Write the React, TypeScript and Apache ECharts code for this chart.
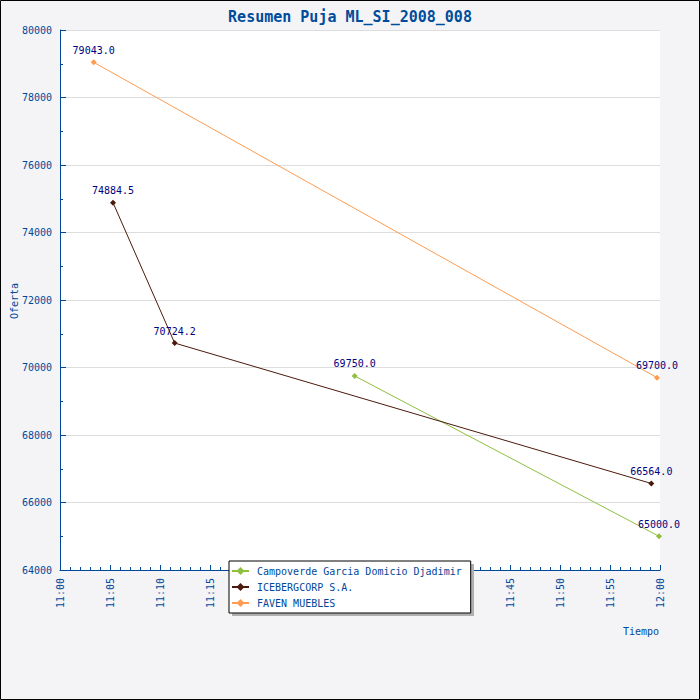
import React, { useEffect, useRef } from "react";
import * as echarts from "echarts";

const seriesNames = ["Campoverde Garcia Domicio Djadimir", "ICEBERGCORP S.A.", "FAVEN MUEBLES"];
const seriesColors = ["#8fbf3f", "#4b1a0c", "#ff9c50"];

const campoverdeTimes = ["11:29:28", "11:59:54"];
const campoverdeValues = [69750.0, 65000.0];

const icebergTimes = ["11:05:18", "11:11:28", "11:59:08"];
const icebergValues = [74884.5, 70724.2, 66564.0];

const favenTimes = ["11:03:22", "11:59:42"];
const favenValues = [79043.0, 69700.0];

const xStart = "11:00:00";
const xEnd = "12:00:00";
const yMin = 64000;
const yMax = 80000;

const toMinutes = (t: string) => {
  const [h, m, s] = t.split(":").map(Number);
  return h * 60 + m + s / 60;
};
const base = toMinutes(xStart);
const pairs = (times: string[], values: number[]) =>
  times.map((t, i) => [toMinutes(t) - base, values[i]]);

const FONT = "DejaVu Sans Mono";
const AXIS = "#00489a";

export default function App() {
  const ref = useRef<HTMLDivElement>(null);
  useEffect(() => {
    document.body.style.margin = "0";
    const chart = echarts.init(ref.current!, null, { renderer: "svg" });
    const data = [
      pairs(campoverdeTimes, campoverdeValues),
      pairs(icebergTimes, icebergValues),
      pairs(favenTimes, favenValues),
    ];
    chart.setOption({
      animation: false,
      backgroundColor: "#f4f4f6",
      textStyle: { fontFamily: FONT },
      title: {
        text: "Resumen Puja ML_SI_2008_008",
        left: "center",
        top: 4,
        textStyle: { fontFamily: FONT, fontSize: 15, fontWeight: "bold", color: "#004c9c" },
      },
      grid: {
        left: 60,
        top: 30,
        width: 600,
        height: 540,
        show: true,
        backgroundColor: "#ffffff",
        borderWidth: 0,
        containLabel: false,
        outerBoundsMode: "none",
      },
      xAxis: {
        type: "value",
        min: 0,
        max: toMinutes(xEnd) - base,
        interval: 5,
        axisLine: { lineStyle: { color: AXIS, width: 1 } },
        axisTick: { show: true, inside: true, length: 5, lineStyle: { color: AXIS } },
        minorTick: { show: true, splitNumber: 5, length: 3, lineStyle: { color: AXIS } },
        splitLine: { show: false },
        axisLabel: {
          rotate: 90,
          margin: 8,
          color: AXIS,
          fontFamily: FONT,
          fontSize: 10,
          formatter: (v: number) => {
            const tot = base + v;
            const h = Math.floor(tot / 60);
            const m = Math.round(tot - h * 60);
            return `${h}:${String(m).padStart(2, "0")}`;
          },
        },
      },
      yAxis: {
        type: "value",
        min: yMin,
        max: yMax,
        interval: 2000,
        axisLine: { show: true, lineStyle: { color: AXIS, width: 1 } },
        axisTick: { show: true, inside: true, length: 6, lineStyle: { color: AXIS } },
        minorTick: { show: true, splitNumber: 2, length: 3, lineStyle: { color: AXIS } },
        splitLine: { show: true, lineStyle: { color: "#dddddd", width: 1 } },
        axisLabel: {
          color: AXIS,
          fontFamily: FONT,
          fontSize: 10,
          margin: 8,
          formatter: (v: number) => String(v),
        },
      },
      legend: {
        orient: "vertical",
        left: 229,
        top: 561,
        padding: [5, 9, 5, 2],
        itemGap: 6,
        itemWidth: 17,
        itemHeight: 10,
        backgroundColor: "#ffffff",
        borderColor: "#000000",
        borderWidth: 1,
        borderRadius: 0,
        textStyle: { color: AXIS, fontFamily: FONT, fontSize: 10, padding: [0, 0, 0, 3] },
        data: seriesNames,
      },
      graphic: [
        {
          type: "rect",
          z: 1,
          shape: { x: 232, y: 564, width: 242, height: 52 },
          style: { fill: "#b0b0b0" },
        },
        {
          type: "text",
          z: 5,
          x: 14,
          y: 301,
          rotation: Math.PI / 2,
          style: {
            text: "Oferta",
            fill: AXIS,
            font: `10px "${FONT}"`,
            align: "center",
            verticalAlign: "middle",
          },
        },
        {
          type: "text",
          z: 5,
          x: 659,
          y: 631,
          style: {
            text: "Tiempo",
            fill: AXIS,
            font: `10px "${FONT}"`,
            align: "right",
            verticalAlign: "middle",
          },
        },
        {
          type: "rect",
          z: 10,
          shape: { x: 0.5, y: 0.5, width: 699, height: 699 },
          style: { fill: "none", stroke: "#000000", lineWidth: 1 },
        },
      ],
      series: seriesNames.map((name, i) => ({
        name,
        type: "line",
        data: data[i],
        color: seriesColors[i],
        symbol: "diamond",
        symbolSize: 6,
        showAllSymbol: true,
        lineStyle: { width: 1, color: seriesColors[i] },
        itemStyle: { color: seriesColors[i] },
        label: {
          show: true,
          position: "top",
          distance: 4,
          color: "#000080",
          fontFamily: FONT,
          fontSize: 10,
          formatter: (p: any) => Number(p.value[1]).toFixed(1),
        },
        emphasis: { disabled: true },
      })),
    });
    return () => chart.dispose();
  }, []);
  return <div ref={ref} style={{ width: 700, height: 700 }} />;
}
